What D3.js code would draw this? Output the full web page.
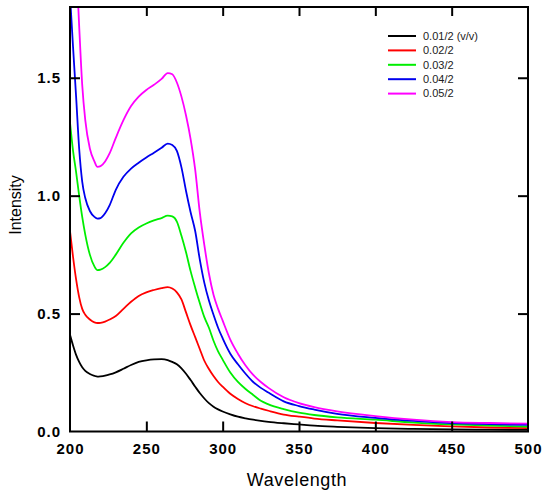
<!DOCTYPE html>
<html>
<head>
<meta charset="utf-8">
<script src="https://cdn.jsdelivr.net/npm/d3@7"></script>
<style>
  html, body { margin: 0; padding: 0; background: #fff; }
  svg { display: block; }
</style>
</head>
<body>
<div id="chart"></div>
<script>
// ---- data ----
const wavelengths = [200,202,204,206,208,210,213,216,218,220,223,226,230,235,240,245,250,255,260,264,267,270,273,276,279,282,285,288,291,294,297,300,305,310,315,320,325,330,340,350,360,375,400,425,450,475,500];

const s001 = [0.41,0.365,0.325,0.295,0.272,0.257,0.244,0.236,0.233,0.234,0.237,0.242,0.251,0.266,0.282,0.295,0.302,0.306,0.307,0.303,0.295,0.285,0.268,0.245,0.218,0.190,0.163,0.140,0.120,0.105,0.094,0.085,0.073,0.063,0.056,0.050,0.045,0.041,0.035,0.030,0.025,0.020,0.014,0.011,0.009,0.008,0.007];
const s002 = [0.85,0.74,0.645,0.57,0.52,0.495,0.475,0.463,0.460,0.461,0.466,0.475,0.490,0.520,0.550,0.575,0.590,0.600,0.608,0.612,0.606,0.590,0.560,0.505,0.450,0.400,0.350,0.300,0.265,0.235,0.210,0.190,0.160,0.138,0.120,0.107,0.097,0.088,0.072,0.063,0.055,0.047,0.036,0.028,0.022,0.017,0.014];
const s003 = [1.31,1.19,1.10,1.00,0.91,0.835,0.75,0.70,0.684,0.686,0.697,0.715,0.750,0.800,0.840,0.865,0.882,0.895,0.905,0.915,0.912,0.890,0.830,0.760,0.680,0.610,0.545,0.485,0.440,0.385,0.340,0.305,0.250,0.210,0.180,0.155,0.130,0.115,0.095,0.080,0.070,0.060,0.050,0.038,0.030,0.025,0.021];
const s004 = [1.85,1.63,1.42,1.20,1.06,0.99,0.935,0.91,0.903,0.905,0.925,0.960,1.025,1.080,1.115,1.140,1.162,1.182,1.203,1.221,1.215,1.190,1.120,1.020,0.930,0.850,0.730,0.630,0.555,0.495,0.440,0.395,0.330,0.285,0.245,0.210,0.185,0.165,0.128,0.108,0.093,0.075,0.058,0.045,0.036,0.031,0.028];
const s005 = [2.6,2.3,2.0,1.72,1.47,1.32,1.20,1.145,1.122,1.125,1.145,1.180,1.245,1.320,1.380,1.420,1.448,1.470,1.495,1.520,1.515,1.480,1.420,1.340,1.240,1.110,0.930,0.790,0.670,0.580,0.520,0.470,0.390,0.330,0.280,0.240,0.210,0.185,0.145,0.120,0.103,0.085,0.065,0.050,0.040,0.036,0.033];

const seriesNames = ["0.01/2 (v/v)", "0.02/2", "0.03/2", "0.04/2", "0.05/2"];
const seriesValues = [s001, s002, s003, s004, s005];
const seriesColors = ["#000000", "#ff0000", "#00ee00", "#0000ee", "#ff00ff"];

const xTicks = [200, 250, 300, 350, 400, 450, 500];
const yTicks = [0.0, 0.5, 1.0, 1.5];
const xDomain = [200, 500];
const yDomain = [0, 1.8];

// ---- layout ----
const W = 548, H = 499;
const plot = { left: 70, right: 528, top: 7, bottom: 431.5 };
const FONT = "Liberation Sans, Arial, sans-serif";

const svg = d3.select("#chart").append("svg")
  .attr("width", W).attr("height", H);

const x = d3.scaleLinear().domain(xDomain).range([plot.left, plot.right]);
const y = d3.scaleLinear().domain(yDomain).range([plot.bottom, plot.top]);

svg.append("defs").append("clipPath").attr("id", "clip")
  .append("rect")
  .attr("x", plot.left).attr("y", plot.top)
  .attr("width", plot.right - plot.left).attr("height", plot.bottom - plot.top);

// curves
const line = d3.line()
  .x((d, i) => x(wavelengths[i]))
  .y(d => y(d))
  .curve(d3.curveMonotoneX);

const gLines = svg.append("g").attr("clip-path", "url(#clip)");
seriesValues.forEach((vals, k) => {
  gLines.append("path")
    .datum(vals)
    .attr("d", line)
    .attr("fill", "none")
    .attr("stroke", seriesColors[k])
    .attr("stroke-width", 1.8)
    .attr("stroke-linejoin", "round");
});

const innerX = xTicks.filter(v => v !== xDomain[0] && v !== xDomain[1]);
const innerY = yTicks.filter(v => v !== yDomain[0]);

const axisStyle = g => {
  g.select(".domain").remove();
  g.selectAll(".tick line").attr("stroke", "#000").attr("stroke-width", 2);
};

// bottom
const xAxisB = svg.append("g")
  .attr("transform", `translate(0,${plot.bottom})`)
  .call(d3.axisBottom(x).tickValues(xTicks).tickSizeInner(-10).tickSizeOuter(0).tickPadding(12).tickFormat(d3.format("d")));
axisStyle(xAxisB);
xAxisB.selectAll(".tick").filter(d => d === xDomain[0] || d === xDomain[1]).select("line").remove();
xAxisB.selectAll("text")
  .attr("font-family", FONT).attr("font-size", 15).attr("font-weight", "bold")
  .attr("letter-spacing", 1).attr("fill", "#000");

// top
const xAxisT = svg.append("g")
  .attr("transform", `translate(0,${plot.top})`)
  .call(d3.axisTop(x).tickValues(innerX).tickSizeInner(-9).tickSizeOuter(0).tickFormat(""));
axisStyle(xAxisT);

// left
const yAxisL = svg.append("g")
  .attr("transform", `translate(${plot.left},0)`)
  .call(d3.axisLeft(y).tickValues(yTicks).tickSizeInner(-10).tickSizeOuter(0).tickPadding(9).tickFormat(d3.format(".1f")));
axisStyle(yAxisL);
yAxisL.selectAll(".tick").filter(d => d === yDomain[0]).select("line").remove();
yAxisL.selectAll("text")
  .attr("font-family", FONT).attr("font-size", 15).attr("font-weight", "bold")
  .attr("letter-spacing", 1).attr("fill", "#000");

// right
const yAxisR = svg.append("g")
  .attr("transform", `translate(${plot.right},0)`)
  .call(d3.axisRight(y).tickValues(innerY).tickSizeInner(-10).tickSizeOuter(0).tickFormat(""));
axisStyle(yAxisR);

// frame
svg.append("rect")
  .attr("x", plot.left).attr("y", plot.top)
  .attr("width", plot.right - plot.left).attr("height", plot.bottom - plot.top)
  .attr("fill", "none").attr("stroke", "#000").attr("stroke-width", 2);

// titles
svg.append("text")
  .attr("x", 297).attr("y", 486)
  .attr("text-anchor", "middle")
  .attr("font-family", FONT).attr("font-size", 18).attr("letter-spacing", 0.6).attr("fill", "#000")
  .text("Wavelength");

svg.append("text")
  .attr("transform", `translate(21,${205}) rotate(-90)`)
  .attr("text-anchor", "middle")
  .attr("font-family", FONT).attr("font-size", 16).attr("fill", "#000")
  .text("Intensity");

// legend
const legend = svg.append("g");
seriesNames.forEach((name, k) => {
  const yy = 36 + k * 14.4;
  legend.append("line")
    .attr("x1", 388).attr("x2", 416).attr("y1", yy).attr("y2", yy)
    .attr("stroke", seriesColors[k]).attr("stroke-width", 2);
  legend.append("text")
    .attr("x", 423).attr("y", yy).attr("dy", "0.35em")
    .attr("font-family", FONT).attr("font-size", 11).attr("fill", "#222")
    .text(name);
});
</script>
</body>
</html>
